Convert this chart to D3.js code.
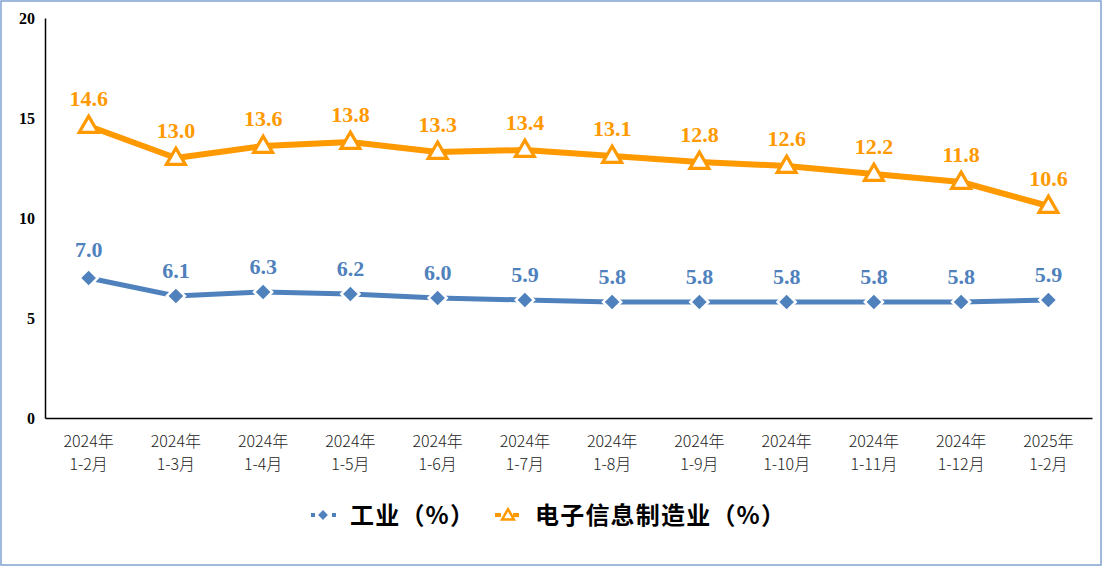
<!DOCTYPE html>
<html><head><meta charset="utf-8">
<script src="https://cdn.jsdelivr.net/npm/d3@7/dist/d3.min.js"></script>
<style>
html,body{margin:0;padding:0;background:#fff;}
svg{display:block;}
</style></head>
<body>
<svg id="chart" width="1102" height="566"></svg>
<script>
const categoriesYear = ["2024年","2024年","2024年","2024年","2024年","2024年","2024年","2024年","2024年","2024年","2024年","2025年"];
const categoriesMonth = ["1-2月","1-3月","1-4月","1-5月","1-6月","1-7月","1-8月","1-9月","1-10月","1-11月","1-12月","1-2月"];
const industry = [7.0,6.1,6.3,6.2,6.0,5.9,5.8,5.8,5.8,5.8,5.8,5.9];
const electronics = [14.6,13.0,13.6,13.8,13.3,13.4,13.1,12.8,12.6,12.2,11.8,10.6];
const yTicks = [0,5,10,15,20];
const seriesNames = ["工业（%）","电子信息制造业（%）"];

const svg = d3.select("#chart");
const W = 1102, H = 566;
const blue = "#4F81BD", orange = "#FF9900";
const serif = "'Liberation Serif','Times New Roman',serif";
const cjk = "'Noto Sans CJK SC','Noto Sans',sans-serif";

svg.append("rect").attr("x",1).attr("y",1).attr("width",W-2).attr("height",H-2)
  .attr("fill","#fff").attr("stroke","#7FA3CF").attr("stroke-width",1.5);

const idx = d3.range(categoriesMonth.length);
const x = d3.scaleBand().domain(idx).range([45,1092]).padding(0);
const y = d3.scaleLinear().domain([0,20]).range([418,18]);
const cx = i => x(i) + x.bandwidth()/2;

// y axis
const yAxis = d3.axisLeft(y).tickValues(yTicks).tickSize(0).tickPadding(10);
const gy = svg.append("g").attr("transform","translate(45,0)").call(yAxis);
gy.select(".domain").attr("stroke","#000").attr("stroke-width",1.5);
gy.selectAll("text").attr("font-family",serif).attr("font-weight","bold").attr("font-size",16).attr("fill","#000");

// x axis
const xAxis = d3.axisBottom(x).tickSize(0).tickFormat(()=> "");
const gx = svg.append("g").attr("transform","translate(0,418)").call(xAxis);
gx.select(".domain").attr("stroke","#000").attr("stroke-width",1.5);
gx.selectAll(".tick").each(function(d){
  const t = d3.select(this).append("text").attr("fill","#222")
    .attr("font-family",cjk).attr("font-size",16).attr("font-weight",300).attr("text-anchor","middle");
  t.append("tspan").attr("x",0).attr("y",29).text(categoriesYear[d]);
  t.append("tspan").attr("x",0).attr("y",52).text(categoriesMonth[d]);
});

const line = d3.line().x((d,i)=>cx(i)).y(d=>y(d));

// electronics series
svg.append("path").datum(electronics).attr("d",line).attr("fill","none")
  .attr("stroke",orange).attr("stroke-width",6).attr("stroke-linejoin","round");
const tri = d3.symbol().type(d3.symbolTriangle).size(155);
svg.selectAll(".tri").data(electronics).join("path")
  .attr("transform",(d,i)=>`translate(${cx(i)},${y(d)+1})`)
  .attr("d",tri).attr("fill","#fff").attr("stroke",orange).attr("stroke-width",3.2);
svg.selectAll(".elab").data(electronics).join("text")
  .attr("x",(d,i)=>cx(i)).attr("y",d=>y(d)-20)
  .attr("text-anchor","middle").attr("font-family",serif).attr("font-weight","bold")
  .attr("font-size",22).attr("fill",orange).text(d=>d.toFixed(1));

// industry series
svg.append("path").datum(industry).attr("d",line).attr("fill","none")
  .attr("stroke",blue).attr("stroke-width",5);
const dia = d3.symbol().type(d3.symbolSquare).size(165);
svg.selectAll(".dia").data(industry).join("path")
  .attr("transform",(d,i)=>`translate(${cx(i)},${y(d)}) rotate(45)`)
  .attr("d",dia).attr("fill",blue).attr("stroke","#fff").attr("stroke-width",2.5);
svg.selectAll(".ilab").data(industry).join("text")
  .attr("x",(d,i)=>cx(i)).attr("y",(d,i)=>y(d)-(i===0?21:18))
  .attr("text-anchor","middle").attr("font-family",serif).attr("font-weight","bold")
  .attr("font-size",22).attr("fill",blue).text(d=>d.toFixed(1));

// legend
const lg = svg.append("g");
const ly = 515;
lg.append("line").attr("x1",311).attr("x2",336).attr("y1",ly).attr("y2",ly)
  .attr("stroke",blue).attr("stroke-width",4).attr("stroke-dasharray","4,3");
lg.append("path").attr("transform",`translate(323,${ly}) rotate(45)`).attr("d",d3.symbol().type(d3.symbolSquare).size(80)())
  .attr("fill",blue).attr("stroke","#fff").attr("stroke-width",2);
lg.append("text").attr("x",350).attr("y",ly+9).attr("font-family",cjk).attr("font-weight","bold")
  .attr("font-size",24).attr("letter-spacing",1.2).attr("fill","#000").text(seriesNames[0]);
lg.append("line").attr("x1",495).attr("x2",522).attr("y1",ly).attr("y2",ly)
  .attr("stroke",orange).attr("stroke-width",4).attr("stroke-dasharray","6,3");
lg.append("path").attr("transform",`translate(508,${ly+1})`).attr("d",d3.symbol().type(d3.symbolTriangle).size(60)())
  .attr("fill","#fff").attr("stroke",orange).attr("stroke-width",2.5);
lg.append("text").attr("x",535).attr("y",ly+9).attr("font-family",cjk).attr("font-weight","bold")
  .attr("font-size",24).attr("letter-spacing",1.2).attr("fill","#000").text(seriesNames[1]);
</script>
</body></html>
